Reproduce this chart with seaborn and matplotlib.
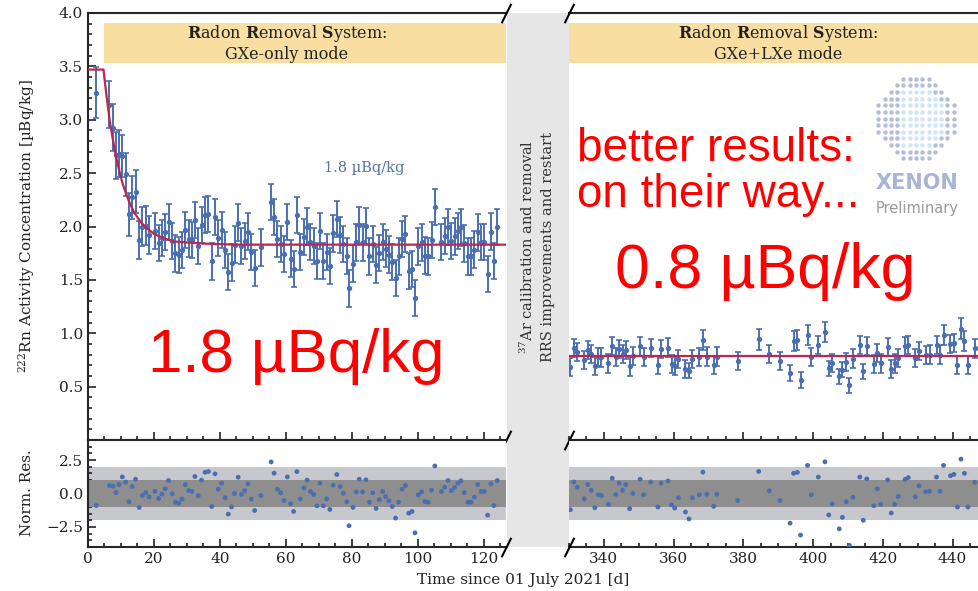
import numpy as np
import seaborn as sns
import matplotlib.pyplot as plt
from matplotlib.patches import Rectangle
from matplotlib.ticker import MultipleLocator

sns.set_style("ticks")
plt.rcParams['font.family'] = ['DejaVu Serif']
plt.rcParams['mathtext.fontset'] = 'dejavuserif'

# ---- data ----
# GXe-only period: time [d], normalised residual, error [uBq/kg]
left_t = [2.5, 6.5, 7.6, 8.5, 9.4, 10.4, 11.4, 12.4, 13.4, 14.4,
          15.5, 16.5, 17.5, 18.5, 20.3, 21.4, 22.4, 23.4, 24.4, 25.5,
          26.5, 27.5, 28.5, 29.5, 30.5, 31.5, 32.4, 33.4, 34.4, 35.5,
          36.5, 37.5, 38.5, 39.5, 40.5, 41.5, 42.5, 43.5, 44.4, 45.5,
          46.5, 47.5, 48.5, 49.5, 50.5, 52.4, 55.5, 56.4, 57.4, 58.4,
          59.4, 60.4, 61.4, 62.3, 63.3, 64.3, 65.4, 66.4, 67.4, 68.4,
          69.4, 70.3, 71.3, 72.3, 73.3, 74.3, 75.4, 76.4, 77.4, 78.4,
          79.1, 80.3, 81.3, 82.2, 83.2, 84.2, 85.3, 86.3, 87.3, 88.3,
          89.3, 90.2, 91.2, 92.2, 93.2, 94.1, 95.2, 96.2, 97.2, 98.2,
          99.1, 100.1, 101.1, 102.1, 103.1, 104.1, 105.1, 107.1, 108.1, 109.1,
          110.1, 111.1, 112.1, 113.0, 114.0, 115.1, 116.1, 117.1, 118.1, 119.1,
          120.1, 121.1, 122.1, 123.0, 124.0]
left_res = [-0.9, 0.6, 0.55, 0.07, 0.67, 1.24, 0.85, -0.62, 0.52, 1.07,
            -1.04, -0.15, 0.07, -0.25, 0.17, -0.37, -0.05, 0.35, 0.97, -0.02,
            -0.65, -0.72, -0.42, 0.67, 0.22, 0.15, 1.27, -0.17, 1.0, 1.59,
            1.64, -0.97, 1.47, 0.32, 0.77, -0.32, -1.54, -1.0, 0.0, 1.22,
            -0.07, 0.22, 0.72, -0.42, -1.27, -0.15, 2.36, 1.52, 0.32, 0.05,
            -0.52, 1.24, -0.77, -1.34, 1.64, -0.4, 0.42, 1.0, 0.15, -0.07,
            -0.92, 0.77, -0.92, -0.4, -1.19, 0.62, 1.42, 0.52, 0.02, -0.62,
            -2.41, -1.04, 0.12, 1.07, 0.12, 1.02, -0.65, 0.05, -1.12, -0.47,
            0.15, -0.22, -0.55, -0.97, -1.84, -0.65, 0.32, 0.6, -1.47, -1.34,
            -2.94, -0.1, 0.12, -0.6, -0.65, 0.25, 2.06, 0.15, 0.47, 0.97,
            0.22, 0.45, 0.77, 0.95, 0.07, -0.65, -0.65, -0.27, 0.67, 0.15,
            0.15, -1.62, 0.72, -0.9, 0.97]
left_err = [0.24, 0.22, 0.22, 0.22, 0.22, 0.20, 0.20, 0.20, 0.20, 0.20,
            0.18, 0.18, 0.18, 0.18] + [0.17] * 101

# fitted model curve (GXe-only)
fit_t = [0, 4.7, 5.5, 6.5, 7.5, 8.5, 9.5, 10.5, 11.5, 12.5,
         14, 16, 18, 20, 23, 26, 30, 35, 45, 126.7]
fit_v = [3.47, 3.47, 3.25, 3.01, 2.82, 2.65, 2.52, 2.40, 2.31, 2.23,
         2.13, 2.04, 1.98, 1.93, 1.89, 1.86, 1.85, 1.84, 1.83, 1.83]

# GXe+LXe period
right_t = [330.4, 331.4, 332.4, 334.4, 335.4, 336.4, 337.4, 338.4, 339.3, 341.3,
           342.4, 343.4, 344.4, 345.4, 346.3, 347.4, 348.3, 350.4, 351.4, 353.4,
           355.5, 356.4, 358.4, 359.4, 360.3, 361.4, 363.4, 364.4, 365.4, 367.4,
           368.4, 369.5, 371.5, 372.4, 378.4, 384.4, 387.4, 390.5, 393.4, 394.4,
           395.5, 396.4, 398.4, 399.5, 401.5, 403.4, 404.5, 405.5, 407.5, 408.4,
           409.5, 410.4, 411.4, 413.4, 414.4, 415.4, 417.4, 418.4, 419.4, 421.4,
           422.4, 423.4, 424.4, 426.4, 427.3, 429.3, 430.4, 432.3, 433.4, 435.4,
           436.4, 437.4, 439.4, 440.4, 441.4, 442.4, 443.4, 444.4, 446.4]
right_res = [-1.21, 0.86, 0.47, -0.40, 0.67, 0.25, -1.06, -0.10, -0.15, -0.81,
             1.14, -0.07, 0.77, 0.25, 0.67, -1.14, 0.0, 1.06, -0.1, 0.86,
             -1.01, 0.77, 0.94, -0.84, -1.09, -0.32, -1.38, -1.90, -0.32, -0.1,
             1.60, -0.05, -0.96, -0.05, -0.52, 1.65, 0.20, -0.52, -2.22, 1.51,
             1.58, -3.11, 2.10, -0.10, 1.23, 2.37, -1.60, -0.77, -2.64, -1.78,
             -0.62, -3.88, -0.27, 1.23, -2.0, 1.09, -0.91, 0.35, -0.81, 1.01,
             -1.46, -0.81, -0.22, 1.06, 1.19, -0.25, 0.57, 0.12, 0.17, 1.23,
             0.17, 2.10, 1.33, 1.43, -1.01, 2.57, 1.51, -1.01, 0.84]
right_err = [0.085] * 27 + [0.072, 0.085, 0.085,
             0.095, 0.085, 0.085, 0.085, 0.085, 0.095, 0.085, 0.085, 0.072, 0.095,
             0.095, 0.072, 0.095, 0.085, 0.085, 0.095, 0.072, 0.085, 0.072, 0.072,
             0.085, 0.070, 0.085, 0.085, 0.072, 0.085, 0.085, 0.085, 0.085, 0.085,
             0.085, 0.085, 0.085, 0.085, 0.085, 0.085, 0.085, 0.085, 0.085, 0.085,
             0.085, 0.095, 0.085, 0.085, 0.085, 0.100, 0.095, 0.085, 0.085]
fit2_t = [330, 453.6]
fit2_v = [0.786, 0.786]

# activity = model + residual * error
left_val = np.interp(left_t, fit_t, fit_v) + np.array(left_res) * np.array(left_err)
right_val = np.interp(right_t, fit2_t, fit2_v) + np.array(right_res) * np.array(right_err)

blue = '#4a6fb0'
crimson = '#bf2550'
W, H = 979, 591

fig = plt.figure(figsize=(W / 100, H / 100), dpi=100)


def box(x0, y0, x1, y1):
    return [x0 / W, 1 - y1 / H, (x1 - x0) / W, (y1 - y0) / H]


# grey gap between the two periods
fig.add_artist(Rectangle((507 / W, 1 - 547 / H), 62 / W, 534 / H, transform=fig.transFigure,
                         facecolor='#e6e6e6', edgecolor='none', zorder=0))

ax_l = fig.add_axes(box(88, 13, 506, 440))
ax_lr = fig.add_axes(box(88, 440, 506, 547))
ax_r = fig.add_axes(box(569, 13, 1000, 440))
ax_rr = fig.add_axes(box(569, 440, 1000, 547))

for ax in (ax_l, ax_lr, ax_r, ax_rr):
    for s in ax.spines.values():
        s.set_linewidth(1.5)
    ax.tick_params(which='both', direction='in', top=False, right=False,
                   labelsize=11, width=1.2, colors='#222222')
    ax.tick_params(which='major', length=6)
    ax.tick_params(which='minor', length=3)
    ax.xaxis.set_major_locator(MultipleLocator(20))
    ax.xaxis.set_minor_locator(MultipleLocator(5))

for ax in (ax_l, ax_lr):
    ax.spines['right'].set_visible(False)
    ax.set_xlim(0, 126.67)
for ax in (ax_r, ax_rr):
    ax.spines['left'].set_visible(False)
    ax.spines['right'].set_visible(False)
    ax.set_xlim(330, 453.6)
    ax.tick_params(axis='y', which='both', left=False, labelleft=False)

for ax in (ax_l, ax_r):
    ax.set_ylim(0, 4.0)
    ax.tick_params(labelbottom=False)
ax_l.set_yticks([0.5, 1.0, 1.5, 2.0, 2.5, 3.0, 3.5, 4.0])
ax_l.yaxis.set_minor_locator(MultipleLocator(0.1))

for ax in (ax_lr, ax_rr):
    ax.set_ylim(-4, 4)
    ax.axhspan(-2, 2, color='#c6c8cd', lw=0, zorder=0)
    ax.axhspan(-1, 1, color='#8e8e8e', lw=0, zorder=1)
ax_lr.set_yticks([-2.5, 0.0, 2.5])
ax_lr.yaxis.set_minor_locator(MultipleLocator(0.5))

# header bands
band = '#f9dea2'
ax_l.add_patch(Rectangle((5, 3.53), 126.67 - 5, 0.375, facecolor=band, lw=0, zorder=1))
ax_r.add_patch(Rectangle((330, 3.53), 130, 0.375, facecolor=band, lw=0, zorder=1))
ax_l.text(60.3, 3.72, "$\\mathbf{R}$adon $\\mathbf{R}$emoval $\\mathbf{S}$ystem:\nGXe-only mode",
          ha='center', va='center', fontsize=11.5, linespacing=1.1, color='#222222', zorder=2)
ax_r.text(390, 3.72, "$\\mathbf{R}$adon $\\mathbf{R}$emoval $\\mathbf{S}$ystem:\nGXe+LXe mode",
          ha='center', va='center', fontsize=11.5, linespacing=1.1, color='#222222', zorder=2)

# data with error bars and fit
ax_l.errorbar(left_t, left_val, yerr=left_err, fmt='o', ms=2.8, color=blue,
              elinewidth=1.4, capsize=2, capthick=1.2, zorder=3)
ax_r.errorbar(right_t, right_val, yerr=right_err, fmt='o', ms=2.8, color=blue,
              elinewidth=1.4, capsize=2, capthick=1.2, zorder=3)
sns.lineplot(x=fit_t, y=fit_v, ax=ax_l, color=crimson, lw=1.6, zorder=4)
sns.lineplot(x=fit2_t, y=fit2_v, ax=ax_r, color=crimson, lw=1.6, zorder=4)
ax_l.text(83.6, 2.55, "1.8 µBq/kg", color='#5a72a8', ha='center', va='center', fontsize=10.5)

# residuals
sns.scatterplot(x=left_t, y=left_res, ax=ax_lr, color=blue, s=12, edgecolor='none', zorder=3)
sns.scatterplot(x=right_t, y=right_res, ax=ax_rr, color=blue, s=12, edgecolor='none', zorder=3)
ax_rr.set_xticks([340, 360, 380, 400, 420, 440])

for ax in (ax_l, ax_lr, ax_r, ax_rr):
    ax.set_xlabel('')
    ax.set_ylabel('')

# break marks
kw = dict(marker=[(-0.5, -1), (0.5, 1)], markersize=14, linestyle='none',
          color='k', mec='k', mew=1.5, clip_on=False, zorder=10)
ax_l.plot([1, 1], [0, 1], transform=ax_l.transAxes, **kw)
ax_lr.plot([1], [0], transform=ax_lr.transAxes, **kw)
ax_r.plot([0, 0], [0, 1], transform=ax_r.transAxes, **kw)
ax_rr.plot([0], [0], transform=ax_rr.transAxes, **kw)

# axis labels
fig.text(27 / W, 1 - 226 / H, "$^{222}$Rn Activity Concentration [µBq/kg]", rotation=90,
         ha='center', va='center', fontsize=11, color='#222222')
fig.text(27 / W, 1 - 493 / H, "Norm. Res.", rotation=90, ha='center', va='center',
         fontsize=11, color='#222222')
fig.text(523 / W, 1 - 580 / H, "Time since 01 July 2021 [d]", ha='center', va='center',
         fontsize=11, color='#222222')
fig.text(537 / W, 1 - 247 / H, "$^{37}$Ar calibration and removal\nRRS improvements and restart",
         rotation=90, ha='center', va='center', fontsize=10.5, linespacing=1.45, color='#333333')

# XENON logo
logo = fig.add_axes(box(872, 72, 960, 165))
logo.set_axis_off()
gx, gy = np.meshgrid(np.arange(-6, 7), np.arange(-6, 7))
rr = np.hypot(gx, gy)
inside = rr <= 6.4
light = inside & (rr < 4.6) & (gx > -3)
logo.scatter(gx[inside & ~light], gy[inside & ~light], s=10, color='#b4bdd8', lw=0)
logo.scatter(gx[light], gy[light], s=10, color='#cfe5f4', lw=0)
logo.set_xlim(-7, 7)
logo.set_ylim(-7, 7)
fig.text(917 / W, 1 - 183 / H, "XENON", fontsize=15, fontweight='bold', color='#a9b4d6',
         family='DejaVu Sans', ha='center', va='center')
fig.text(917 / W, 1 - 209 / H, "Preliminary", fontsize=10.5, color='#9a9a9a',
         family='DejaVu Sans', ha='center', va='center')

# red slide annotations
red_kw = dict(color='#ff0000', family='Liberation Sans', ha='left', va='baseline')
fig.text(148 / W, 1 - 372 / H, "1.8 µBq/kg", fontsize=44.5, **red_kw)
fig.text(615 / W, 1 - 288 / H, "0.8 µBq/kg", fontsize=45, **red_kw)
fig.text(577 / W, 1 - 161 / H, "better results:", fontsize=33, **red_kw)
fig.text(577 / W, 1 - 207 / H, "on their way...", fontsize=33, **red_kw)

fig.savefig('out.png', dpi=100)
